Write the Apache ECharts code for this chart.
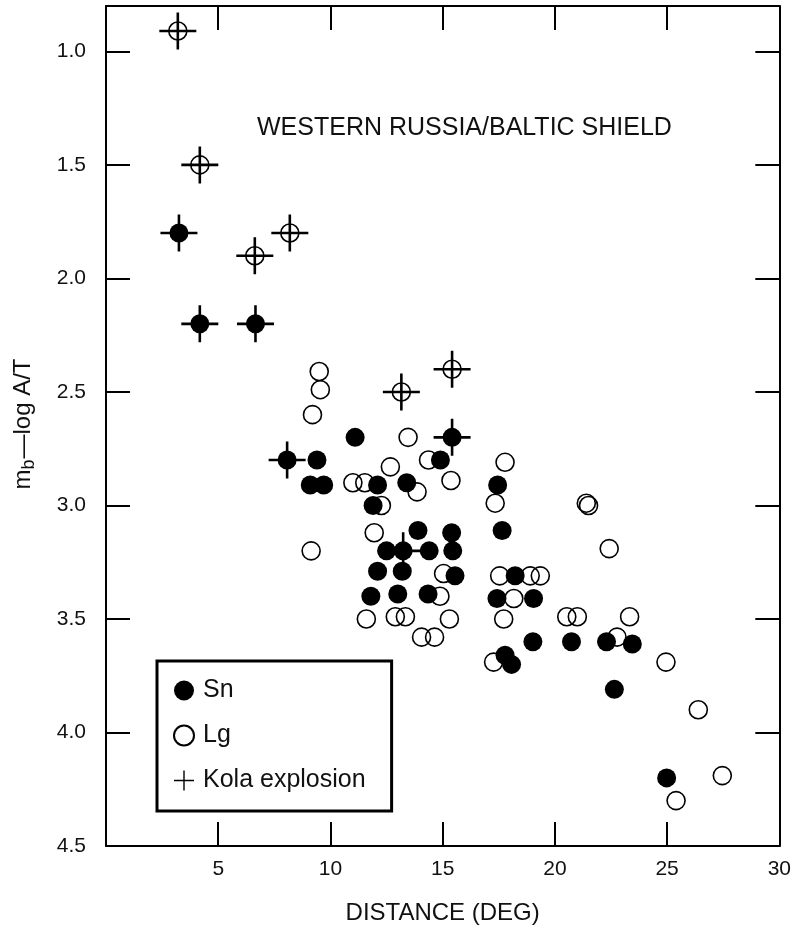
<!DOCTYPE html>
<html>
<head>
<meta charset="utf-8">
<script src="https://cdn.jsdelivr.net/npm/echarts@6/dist/echarts.min.js"></script>
<style>
  html, body { margin: 0; padding: 0; background: #fff; }
  #chart { width: 794px; height: 933px; }
</style>
</head>
<body>
<div id="chart"></div>
<script>
// Tick labels
const xTicks = [5, 10, 15, 20, 25, 30];
const yTicks = [1.0, 1.5, 2.0, 2.5, 3.0, 3.5, 4.0, 4.5];

// Sn (filled circles)
const snX = [11.1, 9.4, 14.9, 9.1, 9.7, 12.1, 13.4, 11.9, 13.9, 15.4, 12.5, 14.4, 15.45, 12.1, 13.2, 15.55,
             11.8, 13.0, 14.35, 17.45, 17.65, 18.23, 17.42, 19.05, 19.02, 20.74, 22.3, 23.45, 17.78, 18.07,
             22.65, 24.98,
             3.25, 4.18, 6.66, 8.07, 15.42, 13.24];
const snY = [2.70, 2.80, 2.80, 2.91, 2.91, 2.91, 2.90, 3.00, 3.11, 3.12, 3.20, 3.20, 3.20, 3.29, 3.29, 3.31,
             3.40, 3.39, 3.39, 2.91, 3.11, 3.31, 3.41, 3.41, 3.60, 3.60, 3.60, 3.61, 3.66, 3.70,
             3.81, 4.20,
             1.80, 2.20, 2.20, 2.80, 2.70, 3.20];

// Lg (open circles)
const lgX = [9.5, 9.55, 9.2, 13.46, 14.37, 12.67, 11.0, 11.53, 13.86, 15.37, 12.27, 11.95, 9.14, 15.04, 14.88,
             11.6, 12.89, 13.34, 15.3, 14.06, 14.64, 17.78, 17.34, 21.4, 21.5, 22.42, 17.54, 18.9, 19.35,
             18.17, 17.72, 20.53, 21.0, 23.33, 22.77, 17.27, 24.95, 26.39, 27.46, 25.4,
             3.2, 4.18, 6.63, 8.19, 13.16, 15.42];
const lgY = [2.41, 2.49, 2.60, 2.70, 2.80, 2.83, 2.90, 2.90, 2.94, 2.89, 3.00, 3.12, 3.20, 3.30, 3.40,
             3.50, 3.49, 3.49, 3.50, 3.58, 3.58, 2.81, 2.99, 2.99, 3.00, 3.19, 3.31, 3.31, 3.31,
             3.41, 3.50, 3.49, 3.49, 3.49, 3.58, 3.69, 3.69, 3.90, 4.19, 4.30,
             0.91, 1.50, 1.90, 1.80, 2.50, 2.40];

// Kola explosion (crosses)
const kolaX = [3.2, 4.18, 3.25, 6.63, 8.19, 4.18, 6.66, 8.07, 13.16, 15.42, 15.42, 13.24];
const kolaY = [0.91, 1.50, 1.80, 1.90, 1.80, 2.20, 2.20, 2.80, 2.50, 2.40, 2.70, 3.20];

const zip = (xs, ys) => xs.map((x, i) => [x, ys[i]]);
const FONT = 'Liberation Sans';
const crossPath = 'path://M0,9.3H20V10.7H0Z M9.3,0H10.7V20H9.3Z';

const axisCommon = {
  type: 'value',
  axisLine: { show: true, onZero: false, lineStyle: { color: '#000', width: 2 } },
  axisTick: { show: true, inside: true, length: 24, lineStyle: { color: '#000', width: 2 } },
  splitLine: { show: false }
};

const chart = echarts.init(document.getElementById('chart'), null, { renderer: 'canvas' });
chart.setOption({
  animation: false,
  backgroundColor: '#fff',
  title: {
    text: 'WESTERN RUSSIA/BALTIC SHIELD',
    left: 252, top: 111,
    textStyle: { fontFamily: FONT, fontSize: 25, fontWeight: 'normal', color: '#111' }
  },
  grid: { left: 106, right: 12, top: 6, bottom: 87 },
  xAxis: [
    Object.assign({}, axisCommon, {
      min: 0, max: 30, position: 'bottom',
      axisTick: Object.assign({}, axisCommon.axisTick, { customValues: xTicks }),
      axisLabel: { customValues: xTicks, margin: 13, fontFamily: FONT, fontSize: 21, color: '#111' },
      name: 'DISTANCE (DEG)', nameLocation: 'middle', nameGap: 55,
      nameTextStyle: { fontFamily: FONT, fontSize: 24, color: '#111' }
    }),
    Object.assign({}, axisCommon, {
      min: 0, max: 30, position: 'top',
      axisTick: Object.assign({}, axisCommon.axisTick, { customValues: xTicks }),
      axisLabel: { show: false }
    })
  ],
  yAxis: [
    Object.assign({}, axisCommon, {
      min: 0.8, max: 4.5, inverse: true, position: 'left',
      axisTick: Object.assign({}, axisCommon.axisTick, { customValues: yTicks }),
      axisLabel: { customValues: yTicks, margin: 20, fontFamily: FONT, fontSize: 21, color: '#111',
                   formatter: v => v.toFixed(1) }
    }),
    Object.assign({}, axisCommon, {
      min: 0.8, max: 4.5, inverse: true, position: 'right',
      axisTick: Object.assign({}, axisCommon.axisTick, { customValues: yTicks }),
      axisLabel: { show: false }
    })
  ],
  legend: {
    orient: 'vertical',
    left: 157, top: 661,
    padding: [17, 26, 18, 16],
    itemGap: 20,
    itemWidth: 28, itemHeight: 20,
    borderColor: '#000', borderWidth: 3,
    backgroundColor: '#fff',
    selectedMode: false,
    textStyle: { fontFamily: FONT, fontSize: 25, color: '#111', lineHeight: 24 },
    data: [
      { name: 'Sn', icon: 'circle' },
      { name: 'Lg', icon: 'circle' },
      { name: 'Kola explosion', icon: crossPath }
    ]
  },
  graphic: [{
    type: 'text',
    x: 23, y: 424,
    rotation: Math.PI / 2,
    style: {
      text: '{m|m}{s|b}{m|\u2014log A/T}',
      align: 'center', verticalAlign: 'middle',
      rich: {
        m: { fontFamily: FONT, fontSize: 24, fill: '#111' },
        s: { fontFamily: FONT, fontSize: 18, fill: '#111', padding: [12, 1, 0, 0] }
      }
    }
  }],
  series: [
    {
      name: 'Sn', type: 'scatter', data: zip(snX, snY),
      symbol: 'circle', symbolSize: 19, z: 3,
      itemStyle: { color: '#000', opacity: 1 }
    },
    {
      name: 'Lg', type: 'scatter', data: zip(lgX, lgY),
      symbol: 'circle', symbolSize: 18, z: 4,
      itemStyle: { color: 'rgba(255,255,255,0)', borderColor: '#000', borderWidth: 1.6, opacity: 1 }
    },
    {
      name: 'Kola explosion', type: 'scatter', data: zip(kolaX, kolaY),
      symbol: crossPath, symbolSize: 37, z: 5,
      itemStyle: { color: '#000', opacity: 1 }
    }
  ]
});
</script>
</body>
</html>
